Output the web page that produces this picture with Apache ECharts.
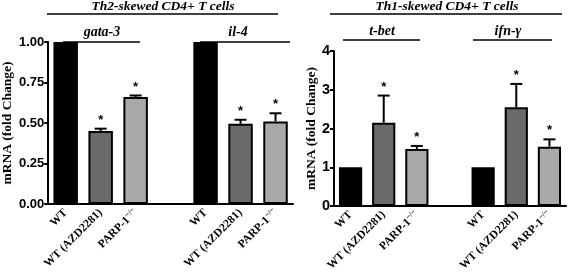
<!DOCTYPE html>
<html>
<head>
<meta charset="utf-8">
<script src="https://cdn.jsdelivr.net/npm/echarts@6/dist/echarts.min.js"></script>
<style>
  html, body { margin: 0; padding: 0; background: #fff; }
  #chart { width: 574px; height: 275px; }
</style>
</head>
<body>
<div id="chart"></div>
<script>
// categories, the 4th slot is the empty gap between the two genes
const categories = ['WT', 'WT (AZD2281)', 'PARP-1', '', 'WT', 'WT (AZD2281)', 'PARP-1']
const th2Genes = ['gata-3', 'il-4']
const th1Genes = ['t-bet', 'ifn-γ']
// Th2 panel: gata-3 then il-4
const th2Mean = [1.00, 0.45, 0.66, null, 1.00, 0.495, 0.51]
const th2Err = [0, 0.015, 0.01, null, 0, 0.025, 0.05]
const th2Star = [0, 1, 1, 0, 0, 1, 1]
// Th1 panel: t-bet then ifn-γ
const th1Mean = [1.00, 2.15, 1.47, null, 1.00, 2.55, 1.53]
const th1Err = [0, 0.70, 0.08, null, 0, 0.60, 0.19]
const th1Star = [0, 1, 1, 0, 0, 1, 1]
const th2Ticks = [0, 0.25, 0.5, 0.75, 1]
const th1Ticks = [0, 1, 2, 3, 4]

const fills = ['#000000', '#6a6a6a', '#a9a9a9']
const serif = '"Liberation Serif", "DejaVu Serif", serif'
const sans = '"Liberation Sans", Arial, sans-serif'

const chart = echarts.init(document.getElementById('chart'))

function barData (means) {
  return means.map((v, i) => {
    if (v === null) return null
    const k = i % 4
    return {
      value: v,
      itemStyle: {
        color: fills[k],
        borderColor: '#000',
        borderWidth: k === 0 ? 0 : 2
      }
    }
  })
}

function errData (means, errs, stars) {
  return means.map((v, i) => [i, v, errs[i], stars[i]]).filter(d => d[1] !== null)
}

function renderErr (params, api) {
  const m = api.value(1)
  const e = api.value(2)
  const star = api.value(3)
  const base = api.coord([api.value(0), m])
  const top = api.coord([api.value(0), m + e])
  const children = []
  if (e > 0) {
    children.push({
      type: 'line',
      shape: { x1: base[0], y1: base[1], x2: top[0], y2: top[1] },
      style: { stroke: '#000', lineWidth: 2 }
    })
    children.push({
      type: 'line',
      shape: { x1: top[0] - 6, y1: top[1], x2: top[0] + 6, y2: top[1] },
      style: { stroke: '#000', lineWidth: 2 }
    })
  }
  if (star) {
    children.push({
      type: 'text',
      style: {
        x: top[0],
        y: top[1] - 2,
        text: '*',
        align: 'center',
        verticalAlign: 'bottom',
        font: 'bold 13px ' + sans,
        fill: '#000'
      }
    })
  }
  return { type: 'group', children: children }
}

const xLabel = {
  rotate: 45,
  margin: 7,
  fontFamily: serif,
  fontWeight: 'bold',
  fontSize: 11.5,
  color: '#000',
  interval: 0,
  formatter: v => v === 'PARP-1' ? 'PARP-1{sup|−/−}' : v,
  rich: {
    sup: { fontSize: 7.5, fontFamily: serif, fontWeight: 'bold', padding: [0, 0, 6, 0] }
  }
}

function xAxis (grid) {
  return {
    type: 'category',
    gridIndex: grid,
    data: categories,
    axisLine: { lineStyle: { color: '#000', width: 2 } },
    axisTick: { alignWithLabel: true, length: 4, lineStyle: { color: '#000', width: 2 } },
    axisLabel: xLabel
  }
}

function yAxis (grid, ticks, digits, gap, size) {
  return {
    type: 'value',
    gridIndex: grid,
    min: ticks[0],
    max: ticks[ticks.length - 1],
    interval: ticks[1] - ticks[0],
    name: 'mRNA (fold Change)',
    nameLocation: 'middle',
    nameGap: gap,
    nameTextStyle: { fontFamily: serif, fontWeight: 'bold', fontSize: 13.5, color: '#000' },
    splitLine: { show: false },
    axisLine: { show: true, lineStyle: { color: '#000', width: 2 } },
    axisTick: { show: true, length: 4, lineStyle: { color: '#000', width: 2 } },
    axisLabel: {
      fontFamily: sans,
      fontWeight: 'bold',
      fontSize: size,
      color: '#000',
      margin: 4,
      formatter: v => v.toFixed(digits)
    }
  }
}

function title (text, x, y, size) {
  return {
    type: 'text',
    x: x,
    y: y,
    style: {
      text: text,
      align: 'center',
      verticalAlign: 'middle',
      font: 'italic bold ' + size + 'px ' + serif,
      fill: '#000'
    }
  }
}

function rule (x1, x2, y) {
  return {
    type: 'line',
    shape: { x1: x1, y1: y, x2: x2, y2: y },
    style: { stroke: '#000', lineWidth: 1.5 }
  }
}

const option = {
  animation: false,
  grid: [
    { left: 48, right: 281, top: 42, bottom: 71 },
    { left: 334, right: 8, top: 51, bottom: 69 }
  ],
  xAxis: [xAxis(0), xAxis(1)],
  yAxis: [yAxis(0, th2Ticks, 2, 32, 13), yAxis(1, th1Ticks, 0, 15, 14.5)],
  graphic: [
    title('Th2-skewed CD4+ T cells', 163, 7, 13.5),
    rule(47, 278, 14),
    title(th2Genes[0], 102, 32, 14),
    rule(63, 140, 42),
    title(th2Genes[1], 238, 32, 14),
    rule(200, 290, 42),
    title('Th1-skewed CD4+ T cells', 447, 7, 13.5),
    rule(330, 562, 14),
    title(th1Genes[0], 382, 31, 14),
    rule(343, 420, 40),
    title(th1Genes[1], 508, 31, 14),
    rule(473, 552, 40)
  ],
  series: [
    {
      type: 'bar',
      xAxisIndex: 0,
      yAxisIndex: 0,
      barWidth: '70%',
      data: barData(th2Mean)
    },
    {
      type: 'custom',
      xAxisIndex: 0,
      yAxisIndex: 0,
      renderItem: renderErr,
      encode: { x: 0, y: 1 },
      data: errData(th2Mean, th2Err, th2Star),
      z: 5
    },
    {
      type: 'bar',
      xAxisIndex: 1,
      yAxisIndex: 1,
      barWidth: '70%',
      data: barData(th1Mean)
    },
    {
      type: 'custom',
      xAxisIndex: 1,
      yAxisIndex: 1,
      renderItem: renderErr,
      encode: { x: 0, y: 1 },
      data: errData(th1Mean, th1Err, th1Star),
      z: 5
    }
  ]
}

chart.setOption(option)
</script>
</body>
</html>
